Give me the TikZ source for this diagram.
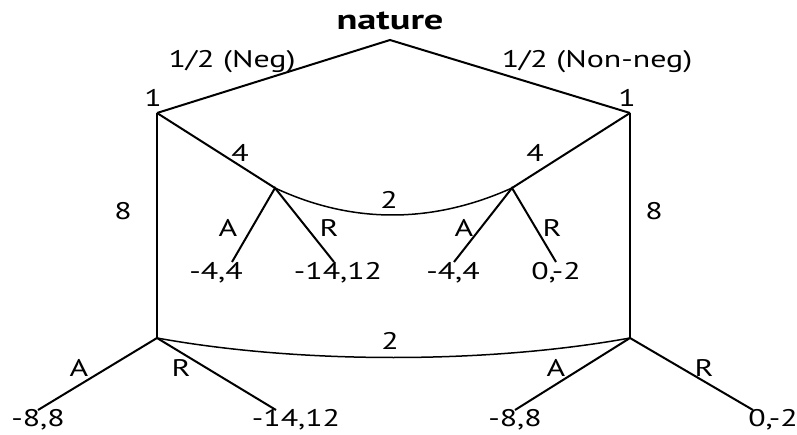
\documentclass[tikz,border=0pt]{standalone}
\usepackage{fontspec}
\setmainfont{PT Sans}
\begin{document}
\begin{tikzpicture}[x=1pt,y=-1pt]
\tikzset{
    gmEdge/.style={line width=2pt,draw=black},
    gmInfo/.style={line width=1.5pt,draw=black},
    gmText/.style={inner sep=0pt,xscale=1.33,font=\fontsize{24}{28}\selectfont},
}
\useasboundingbox (0,0) rectangle (797,435);

% decision points
\coordinate (root) at (390,40);
\coordinate (oneL) at (157,113);
\coordinate (oneR) at (630,113);
\coordinate (twoL) at (275,188);
\coordinate (twoR) at (512,188);
\coordinate (botL) at (157,338);
\coordinate (botR) at (630,338);

% ends of the terminal branches
\coordinate (endA1) at (232,262);
\coordinate (endR1) at (334,262);
\coordinate (endA2) at (454,262);
\coordinate (endR2) at (556,262);
\coordinate (endA3) at (38,410);
\coordinate (endR3) at (276,410);
\coordinate (endA4) at (515,410);
\coordinate (endR4) at (753,410);

\draw[gmEdge] (oneL) -- (root) -- (oneR);
\draw[gmEdge] (oneL) -- (twoL);
\draw[gmEdge] (oneR) -- (twoR);
\draw[gmEdge] (oneL) -- (botL);
\draw[gmEdge] (oneR) -- (botR);
\draw[gmEdge] (endA1) -- (twoL) -- (endR1);
\draw[gmEdge] (endA2) -- (twoR) -- (endR2);
\draw[gmEdge] (endA3) -- (botL) -- (endR3);
\draw[gmEdge] (endA4) -- (botR) -- (endR4);

% information sets
\draw[gmInfo] (twoL) .. controls (352,224) and (432,224) .. (twoR);
\draw[gmInfo] (botL) .. controls (300,364) and (487,364) .. (botR);

\node[gmText,xscale=1.03,font=\fontsize{28}{32}\selectfont\bfseries] (natureLbl) at (390,21) {nature};
\node[gmText] (probL) at (232,62) {1/2 (Neg)};
\node[gmText] (probR) at (597,62) {1/2 (Non-neg)};
\node[gmText] (oneLLbl) at (153,98) {1};
\node[gmText] (oneRLbl) at (627,98) {1};
\node[gmText] (fourL) at (240,153) {4};
\node[gmText] (fourR) at (535,153) {4};
\node[gmText] (eightL) at (123,211) {8};
\node[gmText] (eightR) at (654,211) {8};
\node[gmText] (twoTop) at (389,200) {2};
\node[gmText] (twoBot) at (390,341) {2};

\node[gmText] (actA1) at (228,228) {A};
\node[gmText] (actR1) at (329,228) {R};
\node[gmText] (actA2) at (464,228) {A};
\node[gmText] (actR2) at (552,228) {R};
\node[gmText] (actA3) at (79,368) {A};
\node[gmText] (actR3) at (181,368) {R};
\node[gmText] (actA4) at (556,368) {A};
\node[gmText] (actR4) at (704,368) {R};

\node[gmText] (payA1) at (216,273) {-4,4};
\node[gmText] (payR1) at (338,273) {-14,12};
\node[gmText] (payA2) at (453,273) {-4,4};
\node[gmText] (payR2) at (556,273) {0,-2};
\node[gmText] (payA3) at (38,420) {-8,8};
\node[gmText] (payR3) at (296,420) {-14,12};
\node[gmText] (payA4) at (515,420) {-8,8};
\node[gmText] (payR4) at (773,420) {0,-2};
\end{tikzpicture}
\end{document}
